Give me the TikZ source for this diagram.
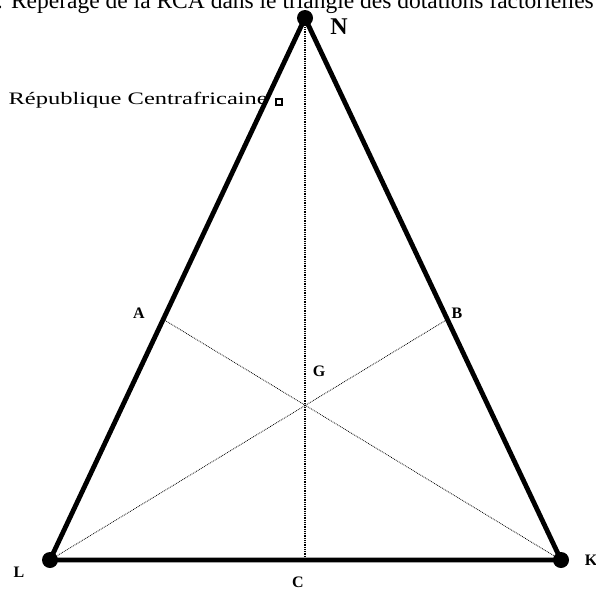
\documentclass[tikz,border=0pt]{standalone}
\usepackage{fontspec}
\setmainfont{Liberation Serif}
\newfontfamily\rcafont[FakeStretch=1.4]{Liberation Serif}
\usetikzlibrary{calc}

\begin{document}
\begin{tikzpicture}[x=1pt, y=-1pt,
    side/.style={line width=4.8pt, line cap=round, line join=round},
    median/.style={line width=0.8pt, densely dotted},
    vertex/.style={circle, fill=black, inner sep=0pt, minimum size=16pt},
    lbl/.style={font=\bfseries\fontsize{16}{18}\selectfont, inner sep=0pt},
]
\clip (0,0) rectangle (596,589);

% titre (coupe en haut)
\node[anchor=base east, font=\fontsize{23.5}{26}\selectfont, inner sep=0pt] (titre) at (594,9)
    {: Repérage de la RCA dans le triangle des dotations factorielles};

% sommets et points
\coordinate (N) at (305,18);
\coordinate (L) at (50,560);
\coordinate (K) at (561,560);
\coordinate (C) at (305,560);
\coordinate (A) at ($(N)!0.556!(L)$);
\coordinate (B) at ($(N)!0.556!(K)$);

% mediane et droites
\draw[median, line width=1.3pt] (N) -- (C);
\draw[median] (A) -- (K);
\draw[median] (L) -- (B);

% cotes
\draw[side] (N) -- (L) -- (K) -- cycle;
\node[vertex] (Nv) at (N) {};
\node[vertex] (Lv) at (L) {};
\node[vertex] (Kv) at (K) {};

% etiquettes
\node[font=\bfseries\fontsize{24}{26}\selectfont, inner sep=0pt] (Nlbl) at (339,27) {N};
\node[lbl] (Albl) at (139,313) {A};
\node[lbl] (Blbl) at (457,313) {B};
\node[lbl] (Glbl) at (319,371) {G};
\node[lbl] (Llbl) at (19,572) {L};
\node[lbl] (Klbl) at (591,560) {K};
\node[lbl] (Clbl) at (298,582) {C};

% position de la RCA
\node[draw, line width=2.5pt, fill=white, minimum size=6pt, inner sep=0pt] (rca) at (279,102) {};
\node[anchor=base east, font=\rcafont\fontsize{17.5}{20}\selectfont, inner sep=0pt] (rcalbl) at (268,104)
    {République Centrafricaine};
\end{tikzpicture}
\end{document}
